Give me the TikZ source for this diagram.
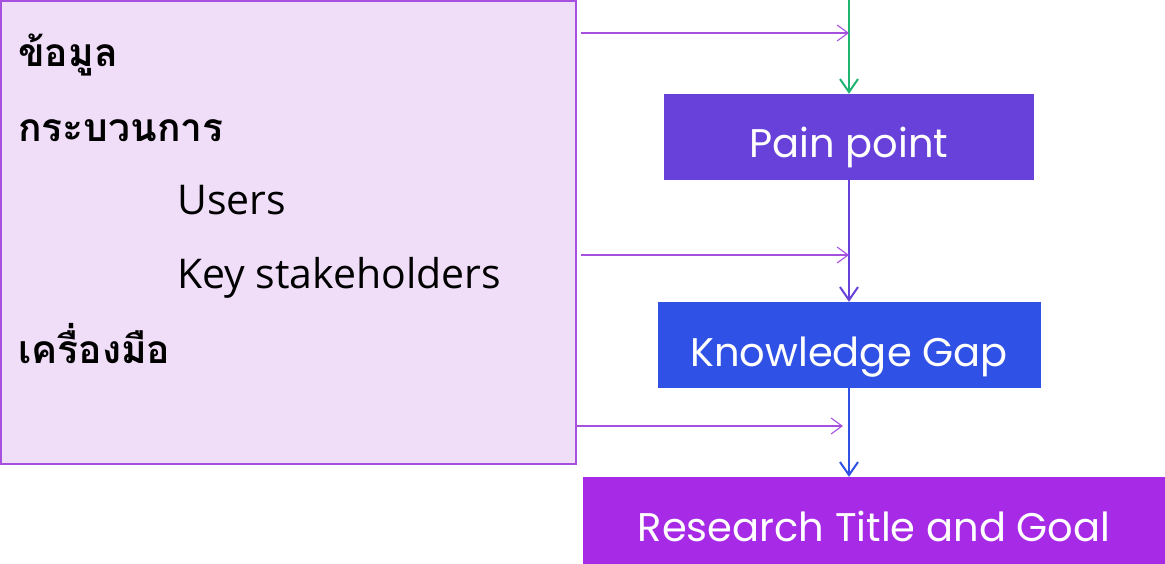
\documentclass[tikz,border=0pt]{standalone}
\usepackage{fontspec}
\setmainfont{Open Sans}
\newfontfamily\thaifont[Script=Thai]{Loma}
\newfontfamily\boxfont{Poppins}
\usetikzlibrary{arrows.meta}
\definecolor{painfill}{HTML}{6741D9}
\definecolor{gapfill}{HTML}{3051E5}
\definecolor{goalfill}{HTML}{A62AE6}
\definecolor{srcfill}{HTML}{F0DDF8}
\definecolor{srcline}{HTML}{A650E0}
\definecolor{startgreen}{HTML}{1DB570}
\tikzstyle{srcbox} = [rectangle,
minimum width=575pt,
minimum height=463pt,
draw=srcline,
line width=1.2pt,
fill=srcfill]
\tikzstyle{stepbox} = [rectangle,
minimum height=86pt,
text=white,
text height=50pt, text depth=8pt,
font=\boxfont\fontsize{40}{44}\selectfont,
inner sep=0pt]
\tikzstyle{thaitext} = [anchor=base west, inner sep=0pt,
font=\thaifont\bfseries\fontsize{39}{44}\selectfont]
\tikzstyle{engtext} = [anchor=base west, inner sep=0pt,
font=\fontsize{41}{46}\selectfont]
\tikzstyle{arrow} = [line width=2pt,-{Straight Barb[length=13pt,width=18pt,line width=2pt]}]
\tikzstyle{feed} = [line width=1.1pt,draw=srcline,-{Straight Barb[length=11pt,width=16pt,line width=1.1pt]}]

\begin{document}
\begin{tikzpicture}[x=1pt,y=-1pt,node distance=208pt]
\useasboundingbox (0,0) rectangle (1165,564);

\node (src) [srcbox] at (288.5,232.5) {};
\node (t1) [thaitext] at (18,67) {ข้อมูล};
\node (t2) [thaitext] at (18,142) {กระบวนการ};
\node (t3) [engtext] at (177,215) {Users};
\node (t4) [engtext] at (177,288) {Key stakeholders};
\node (t5) [thaitext] at (18,363) {เครื่องมือ};

\node (pain) [stepbox, fill=painfill, minimum width=370pt] at (849,137) {Pain point};
\node (gap) [stepbox, fill=gapfill, minimum width=383pt, below of=pain] {Knowledge Gap};
\node (goal) [stepbox, fill=goalfill, minimum width=582pt, minimum height=87pt] at (874,520.5) {Research Title and Goal};

\coordinate (top) at (849,0);
\coordinate (in1) at (581,33);
\coordinate (in2) at (581,255);
\coordinate (in3) at (576,426);

\draw [arrow, startgreen] (top) -- (pain.north);
\draw [arrow, painfill] (pain.south) -- (gap.north);
\draw [arrow, gapfill] (gap.south) -- (gap.south |- goal.north);

\draw [feed] (in1) -- (in1 -| pain.south);
\draw [feed] (in2) -- (in2 -| pain.south);
\draw [feed] (in3) -- ([xshift=-6pt]in3 -| gap.south);

\end{tikzpicture}
\end{document}
